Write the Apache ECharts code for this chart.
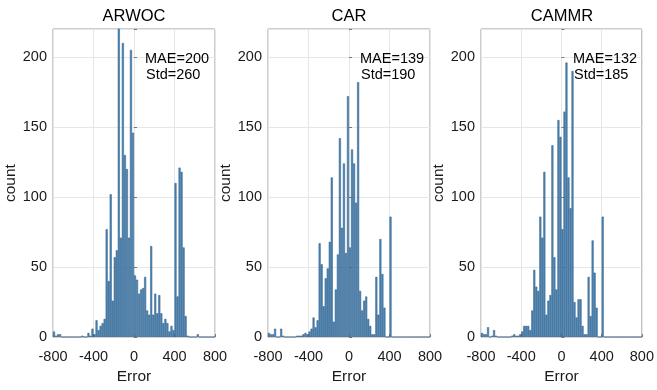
<!DOCTYPE html>
<html><head><meta charset="utf-8">
<script src="https://cdn.jsdelivr.net/npm/echarts@6/dist/echarts.min.js"></script>
<style>html,body{margin:0;padding:0;background:#fff}#c{width:657px;height:390px}</style>
</head><body><div id="c"></div>
<script>
const panelTitles = ['ARWOC', 'CAR', 'CAMMR'];
const maeLabels = ['MAE=200', 'MAE=139', 'MAE=132'];
const stdLabels = ['Std=260', 'Std=190', 'Std=185'];
const xTicks = [-800, -400, 0, 400, 800];
const yTicks = [0, 50, 100, 150, 200];
// bin centres (bin width 20)
const binCenters = [-790,-770,-750,-730,-710,-690,-670,-650,-630,-610,
  -590,-570,-550,-530,-510,-490,-470,-450,-430,-410,
  -390,-370,-350,-330,-310,-290,-270,-250,-230,-210,
  -190,-170,-150,-130,-110,-90,-70,-50,-30,-10,
  10,30,50,70,90,110,130,150,170,190,
  210,230,250,270,290,310,330,350,370,390,
  410,430,450,470,490,510,530,550,570,590,
  610,630,650,670,690,710,730,750,770,790];
const arwocCounts = [4,1,2,2,0,0,0,0,0,0,
  0,0,0,0,1,0,0,3,1,6,
  2,12,5,8,10,13,77,40,102,26,
  57,62,222,71,210,130,120,71,205,146,
  44,41,31,34,35,43,19,16,65,16,
  31,17,30,17,10,13,10,4,8,5,
  110,29,121,118,64,15,1,0,0,0,
  0,2,0,0,0,0,0,0,0,0];
const carCounts = [3,2,2,6,0,0,6,1,0,0,
  0,0,0,0,1,1,1,2,3,2,
  4,6,14,7,12,67,52,22,42,49,
  68,114,11,34,59,142,78,124,60,172,
  64,134,124,96,182,33,19,26,29,13,
  8,2,2,43,16,70,45,21,0,0,
  86,0,0,0,0,0,0,0,0,0,
  0,0,0,0,0,0,0,0,0,0];
const cammrCounts = [3,2,2,7,0,1,5,1,0,0,
  0,0,0,0,0,1,2,1,1,2,
  4,8,8,8,5,19,48,36,33,86,
  71,118,16,26,30,137,57,34,155,143,
  77,161,196,114,92,190,25,14,27,27,
  8,2,2,43,15,69,46,21,0,0,
  86,0,0,0,0,0,0,0,0,0,
  0,0,0,0,0,0,0,0,0,0];
const allCounts = [arwocCounts, carCounts, cammrCounts];

const FONT = 'Liberation Sans, Arial, Helvetica, sans-serif';
const gridLefts = [53, 268, 481];
const gridTop = 29, gridW = 162, gridH = 316;

const grids = [], xAxes = [], yAxes = [], series = [], graphics = [];
for (let i = 0; i < 3; i++) {
  grids.push({left: gridLefts[i], top: gridTop, width: gridW, height: gridH,
    show: true, borderColor: '#9a9a9a', borderWidth: 1, backgroundColor: 'transparent'});
  xAxes.push({type: 'category', gridIndex: i, data: binCenters, show: false, boundaryGap: true});
  xAxes.push({type: 'value', gridIndex: i, min: xTicks[0], max: xTicks[xTicks.length-1], interval: 400,
    position: 'bottom',
    axisLine: {show: false},
    axisTick: {show: true, inside: true, length: 3, lineStyle: {color: '#777'}},
    axisLabel: {fontSize: 14.5, color: '#1a1a1a', fontFamily: FONT, margin: 12},
    splitLine: {show: true, lineStyle: {color: '#e6e6e6', width: 1}},
    name: 'Error', nameLocation: 'middle', nameGap: 31,
    nameTextStyle: {fontSize: 15.5, color: '#1a1a1a', fontFamily: FONT}});
  yAxes.push({type: 'value', gridIndex: i, min: 0, max: 220, interval: 50,
    axisLine: {show: false},
    axisTick: {show: true, inside: true, length: 3, lineStyle: {color: '#777'}},
    axisLabel: {fontSize: 14.5, color: '#1a1a1a', fontFamily: FONT, margin: 6,
      formatter: v => (yTicks.indexOf(v) >= 0 ? String(v) : '')},
    splitLine: {show: true, lineStyle: {color: '#e6e6e6', width: 1}},
    name: 'count', nameLocation: 'middle', nameGap: 34, nameRotate: 90,
    nameTextStyle: {fontSize: 15.5, color: '#1a1a1a', fontFamily: FONT}});
  series.push({type: 'bar', xAxisIndex: 2*i, yAxisIndex: i, data: allCounts[i],
    barCategoryGap: '0%', barGap: '0%', clip: true, silent: true,
    itemStyle: {color: '#4789bf', borderColor: '#33587a', borderWidth: 0.5}});
  const cx = gridLefts[i] + gridW / 2;
  graphics.push({type: 'text', x: cx, y: 8, z: 100, silent: true,
    style: {text: panelTitles[i], fontSize: 16.5, fontFamily: FONT, fill: '#000',
      textAlign: 'center', align: 'center', textVerticalAlign: 'top', verticalAlign: 'top'}});
  const tx = gridLefts[i] + 92;
  graphics.push({type: 'text', x: tx, y: 59, z: 100, silent: true,
    style: {text: maeLabels[i], fontSize: 14.5, fontFamily: FONT, fill: '#000',
      textAlign: 'left', align: 'left', textVerticalAlign: 'middle', verticalAlign: 'middle'}});
  graphics.push({type: 'text', x: tx + 1, y: 75, z: 100, silent: true,
    style: {text: stdLabels[i], fontSize: 14.5, fontFamily: FONT, fill: '#000',
      textAlign: 'left', align: 'left', textVerticalAlign: 'middle', verticalAlign: 'middle'}});
}

const chart = echarts.init(document.getElementById('c'), null, {renderer: 'canvas'});
chart.setOption({
  animation: false,
  backgroundColor: '#fff',
  grid: grids, xAxis: xAxes, yAxis: yAxes, series: series, graphic: graphics
});
</script>
</body></html>
